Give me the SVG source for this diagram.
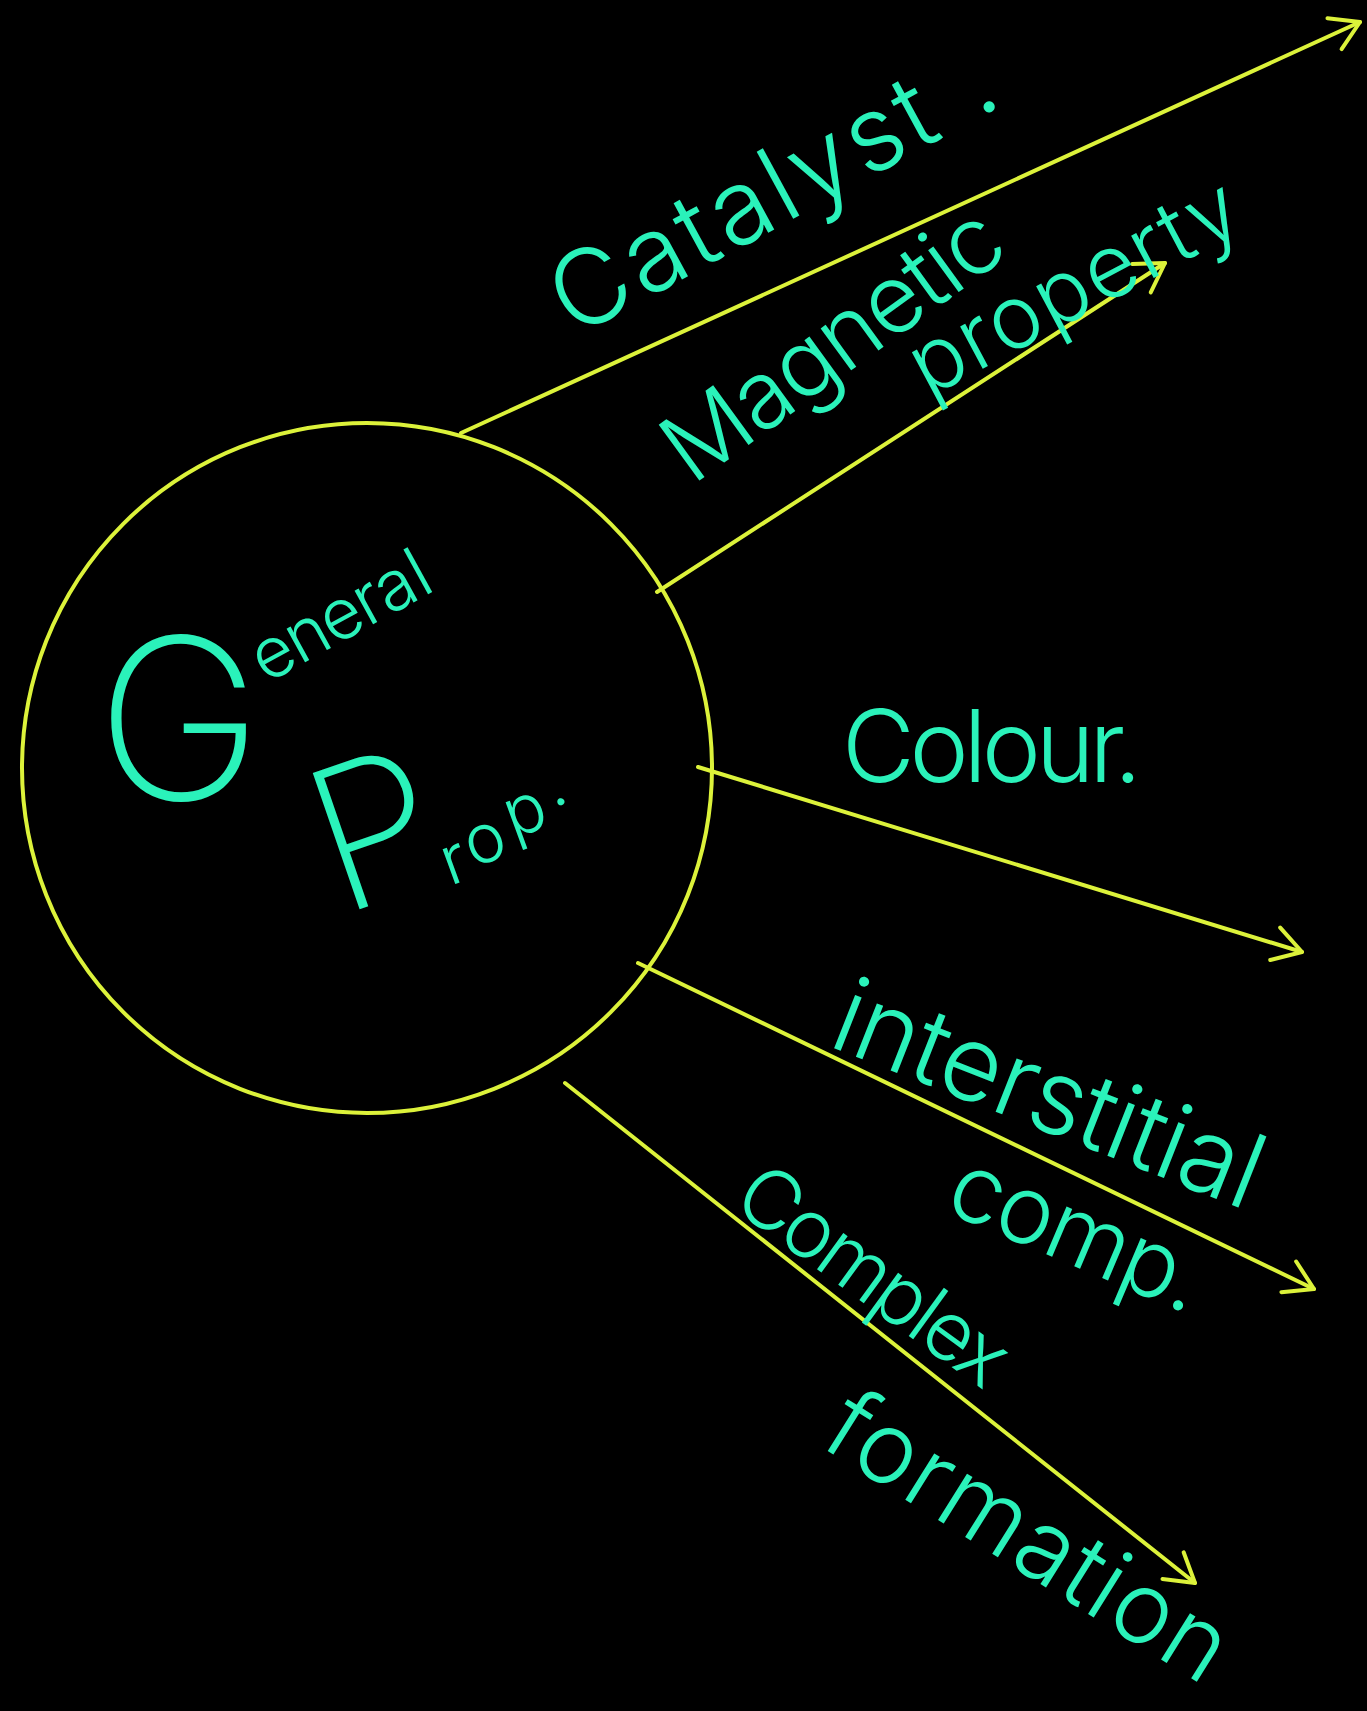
<svg xmlns="http://www.w3.org/2000/svg" width="1367" height="1711" viewBox="0 0 1367 1711">
<style>
.ln{stroke:#dcf23a;stroke-width:4;fill:none;stroke-linecap:round}
.lb{fill:#2af2ba;font-family:Inter,Lato,"Liberation Sans","DejaVu Sans",sans-serif;font-weight:300}
.big{font-weight:200}
</style>
<defs>
<marker id="ah" markerUnits="userSpaceOnUse" markerWidth="80" markerHeight="80" viewBox="-40 -40 80 80" refX="0" refY="0" orient="auto" overflow="visible">
<path d="M-28,-17 L0,0 L-28,17" fill="none" stroke="#dcf23a" stroke-width="4" stroke-linecap="round" stroke-linejoin="round"/>
</marker>
</defs>
<rect width="1367" height="1711" fill="#000"/>
<g id="connectors">
<line class="ln" x1="461" y1="433" x2="1360" y2="22" marker-end="url(#ah)"/>
<line class="ln" x1="657" y1="592" x2="1165" y2="263" marker-end="url(#ah)"/>
<line class="ln" x1="698" y1="767" x2="1302" y2="952" marker-end="url(#ah)"/>
<line class="ln" x1="638" y1="963" x2="1314" y2="1289" marker-end="url(#ah)"/>
<line class="ln" x1="565" y1="1083" x2="1195" y2="1583" marker-end="url(#ah)"/>
</g>
<g id="general-prop">
<circle class="ln" cx="367" cy="768" r="345"/>
<text class="lb"><tspan class="big" x="96" y="800" font-size="225">G</tspan><tspan font-size="70" x="266 300 334 368 389 423" y="684 665 646 627 616 597" rotate="-29">eneral</tspan></text>
<text class="lb"><tspan class="big" x="340" y="916" font-size="198" rotate="-19">P</tspan><tspan font-size="68" x="450 473 513 553" y="886 868 839 808" rotate="-20">rop.</tspan></text>
</g>
<g id="catalyst">
<text class="lb" transform="translate(574,338) rotate(-28.5)" font-size="105" textLength="490" lengthAdjust="spacing">Catalyst .</text>
</g>
<g id="magnetic-property">
<text class="lb" transform="translate(692,486) rotate(-36)" font-size="95" textLength="395" lengthAdjust="spacing">Magnetic</text>
<text class="lb" transform="translate(928,398) rotate(-28)" font-size="88" textLength="362" lengthAdjust="spacing">property</text>
</g>
<g id="colour">
<text class="lb" x="842" y="782" font-size="100" textLength="300" lengthAdjust="spacing">Colour.</text>
</g>
<g id="interstitial-comp">
<text class="lb" transform="translate(826,1045) rotate(21.5)" font-size="105" textLength="452" lengthAdjust="spacing">interstitial</text>
<text class="lb" transform="translate(942,1210) rotate(23)" font-size="95" textLength="268" lengthAdjust="spacing">comp.</text>
</g>
<g id="complex-formation">
<text class="lb" transform="translate(730,1206) rotate(36)" font-size="82" textLength="315" lengthAdjust="spacing">Complex</text>
<text class="lb" transform="translate(818,1445) rotate(32)" font-size="100" textLength="455" lengthAdjust="spacing">formation</text>
</g>
</svg>
